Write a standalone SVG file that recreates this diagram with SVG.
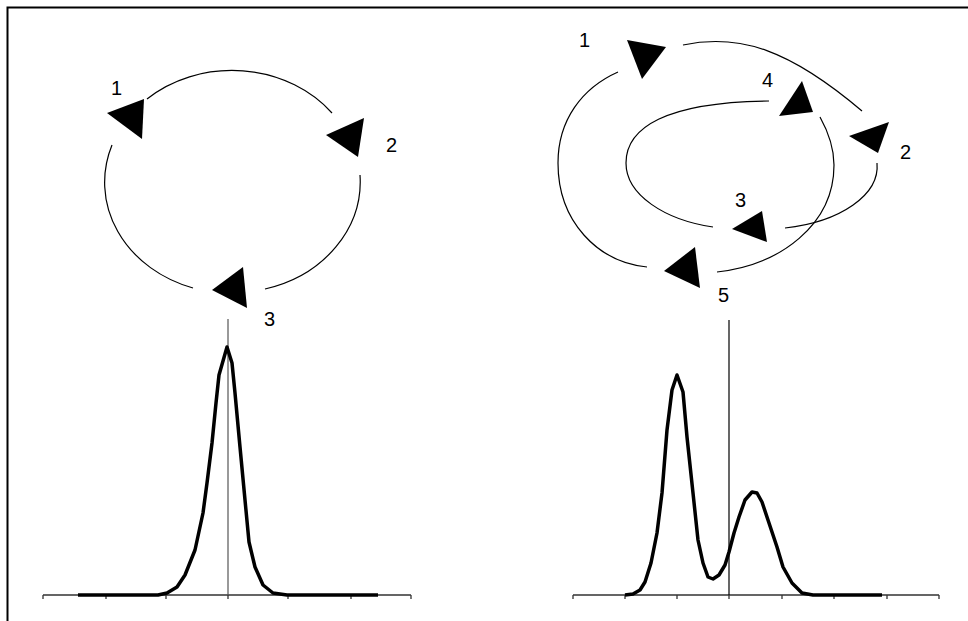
<svg xmlns="http://www.w3.org/2000/svg" width="968" height="621" viewBox="0 0 968 621">
<style>
.thin{fill:none;stroke:#000;stroke-width:1.2}
.axis{fill:none;stroke:#333;stroke-width:1.3}
.curve{fill:none;stroke:#000;stroke-width:3.5;stroke-linejoin:round;stroke-linecap:butt}
.arr{fill:#000;stroke:none}
.lbl{font-family:"Liberation Sans",Arial,sans-serif;font-size:20px;fill:#000}
</style>
<rect width="968" height="621" fill="#fff"/>
<path d="M7.5,621 V7.5 H968" fill="none" stroke="#000" stroke-width="2"/>

<g id="connectors">
  <!-- left cycle -->
  <path class="thin" d="M147,99 A127 111 0 0 1 332,113"/>
  <path class="thin" d="M360,175 A127 111 0 0 1 265,289"/>
  <path class="thin" d="M193,288 A127 111 0 0 1 112,145"/>
  <!-- right cycle -->
  <path class="thin" d="M683,45 C740,33 790,50 862,111"/>
  <path class="thin" d="M877,163 C880,195 840,222 785,228"/>
  <path class="thin" d="M713,227 C665,220 626,195 626,163 C626,128 665,102 769,101"/>
  <path class="thin" d="M820,117 C830,135 834,150 834,165 C834,225 780,265 717,272"/>
  <path class="thin" d="M647,267 C598,262 558,222 558,163 C558,120 582,88 618,72"/>
</g>

<g id="node-l1"><polygon class="arr" points="107,113 144,99 142,139"/><text class="lbl" x="111" y="95">1</text></g>
<g id="node-l2"><polygon class="arr" points="326,135 364,118 358,157"/><text class="lbl" x="386" y="152">2</text></g>
<g id="node-l3"><polygon class="arr" points="212,290 243,267 247,308"/><text class="lbl" x="264" y="326">3</text></g>

<g id="node-r1"><polygon class="arr" points="627,40 666,47 642,79"/><text class="lbl" x="579" y="47">1</text></g>
<g id="node-r4"><polygon class="arr" points="802,81 813,112 779,116"/><text class="lbl" x="762" y="87">4</text></g>
<g id="node-r2"><polygon class="arr" points="889,122 878,153 849,136"/><text class="lbl" x="900" y="159">2</text></g>
<g id="node-r3"><polygon class="arr" points="762,211 767,242 732,229"/><text class="lbl" x="735" y="207">3</text></g>
<g id="node-r5"><polygon class="arr" points="695,247 700,288 664,271"/><text class="lbl" x="718" y="302">5</text></g>

<g id="chart-left">
  <path class="axis" d="M43,595 H411 M43,595 v4 M106,595 v4 M166,595 v4 M228,595 v4 M288,595 v4 M351,595 v4 M411,595 v4"/>
  <path d="M228,319 V595" stroke="#555" stroke-width="1.2"/>
  <path class="curve" d="M78,595 L158,595 L167,593 L177,587 L185,575 L195,550 L203,513 L207,483 L212,443 L216,403 L219,375 L227,347 L232,363 L235,393 L240,447 L245,500 L249,542 L255,567 L263,585 L273,593 L287,595 L378,595"/>
</g>

<g id="chart-right">
  <path class="axis" d="M573,595 H939 M573,595 v4 M625,595 v4 M677,595 v4 M729,595 v4 M782,595 v4 M834,595 v4 M887,595 v4 M939,595 v4"/>
  <path d="M729,320 V595" stroke="#000" stroke-width="1.2"/>
  <path class="curve" d="M625,595 L633,594 L640,590 L645,582 L651,563 L657,533 L662,493 L667,430 L672,390 L677,375 L683,392 L687,437 L693,493 L698,540 L703,563 L708,577 L713,579 L719,575 L725,565 L729,552 L734,533 L739,517 L745,500 L752,492 L757,493 L762,502 L768,520 L777,547 L783,567 L792,583 L802,593 L813,595 L882,595"/>
</g>
</svg>
